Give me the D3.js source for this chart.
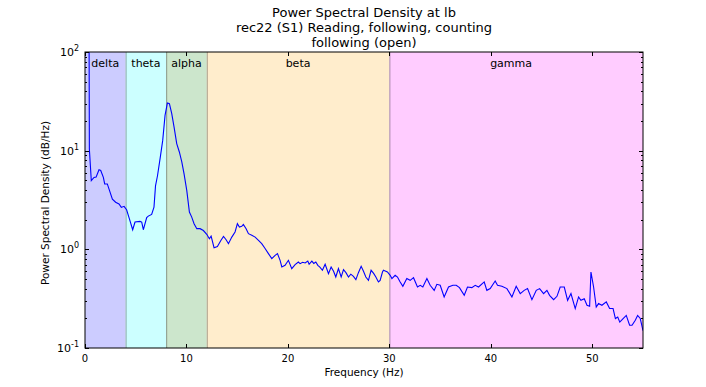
<!DOCTYPE html>
<html>
<head>
<meta charset="utf-8">
<script src="https://d3js.org/d3.v7.min.js"></script>
<style>
  body { margin: 0; background: #fff; }
  text { font-family: "DejaVu Sans", sans-serif; fill: #000; }
</style>
</head>
<body>
<div id="chart"></div>
<script>
// title lines
var titleLines = ["Power Spectral Density at lb", "rec22 (S1) Reading, following, counting", "following (open)"];

// frequency bands
var bandNames = ["delta", "theta", "alpha", "beta", "gamma"];
var bandStart = [0, 4, 8, 12, 30];
var bandEnd = [4, 8, 12, 30, 55];
var bandLabelAt = [2, 6, 10, 21, 42];
var bandColors = ["#ccccff", "#ccffff", "#cce6cc", "#ffedcc", "#ffccff"];

// spectrum
var freq = [0.39, 0.43, 0.62, 0.89, 1.1, 1.38, 1.55, 1.81, 1.94, 2.2, 2.37, 2.7, 3.02, 3.35, 3.58, 3.85,
  4.1, 4.37, 4.7, 4.93, 5.42, 5.59, 5.75, 6.08, 6.24, 6.57, 6.8, 6.95, 7.15, 7.4, 7.66, 7.89,
  8.12, 8.32, 8.55, 8.78, 9.04, 9.3, 9.54, 9.76, 10.03, 10.29, 10.52, 10.75, 11.02, 11.34, 11.67, 12.0,
  12.26, 12.43, 12.72, 13.05, 13.39, 13.65, 13.91, 14.14, 14.47, 14.79, 15.02, 15.22, 15.45, 15.61, 15.88, 16.11,
  16.44, 16.77, 17.1, 17.42, 17.75, 18.08, 18.41, 18.74, 18.97, 19.23, 19.4, 19.72, 20.05, 20.38, 20.71, 21.03,
  21.2, 21.45, 21.7, 21.96, 22.09, 22.36, 22.55, 22.75, 22.95, 23.15, 23.4, 23.67, 24.0, 24.26, 24.5, 24.72,
  24.98, 25.25, 25.48, 25.72, 25.97, 26.2, 26.46, 26.7, 26.95, 27.22, 27.45, 27.68, 27.94, 28.2, 28.45, 28.67,
  28.92, 29.09, 29.32, 29.42, 29.59, 29.81, 30.08, 30.25, 30.57, 30.8, 31.05, 31.33, 31.72, 32.05, 32.38, 32.77,
  33.04, 33.3, 33.7, 34.02, 34.42, 34.68, 35.01, 35.4, 35.83, 36.26, 36.59, 36.91, 37.38, 37.7, 38.13, 38.46,
  38.79, 39.35, 39.61, 39.94, 40.43, 40.66, 41.09, 41.59, 42.08, 42.5, 42.9, 43.29, 43.62, 44.05, 44.48, 44.81,
  45.2, 45.53, 45.79, 46.19, 46.52, 46.84, 47.24, 47.57, 47.9, 48.32, 48.65, 48.88, 49.21, 49.48, 49.74, 49.87,
  50.13, 50.39, 50.62, 50.95, 51.38, 51.71, 52.05, 52.28, 52.51, 52.71, 53.04, 53.35, 53.68, 53.92, 54.24, 54.47,
  54.73, 55.0];
var psd = [400, 10.4, 4.97, 5.36, 5.4, 6.4, 6.3, 5.36, 4.6, 4.6, 4.08, 3.23, 3.0, 2.88, 2.66, 2.73,
  2.52, 2.05, 1.58, 1.89, 1.92, 1.89, 1.58, 2.1, 2.17, 2.26, 2.68, 4.4, 5.6, 8.3, 12.7, 22.8,
  30.4, 29.9, 23.7, 17.3, 11.8, 9.7, 7.7, 5.85, 3.96, 2.39, 2.12, 1.82, 1.62, 1.62, 1.55, 1.42,
  1.28, 1.36, 1.04, 1.07, 1.23, 1.35, 1.25, 1.14, 1.33, 1.5, 1.82, 1.68, 1.71, 1.79, 1.62, 1.44,
  1.39, 1.33, 1.23, 1.14, 1.02, 0.905, 0.805, 0.87, 0.905, 0.774, 0.662, 0.688, 0.774, 0.637, 0.7, 0.744,
  0.716, 0.74, 0.727, 0.761, 0.705, 0.761, 0.72, 0.744, 0.688, 0.66, 0.613, 0.705, 0.567, 0.662, 0.6, 0.524,
  0.637, 0.524, 0.622, 0.58, 0.524, 0.56, 0.532, 0.493, 0.58, 0.673, 0.6, 0.524, 0.485, 0.613, 0.57, 0.524,
  0.467, 0.485, 0.589, 0.613, 0.603, 0.589, 0.545, 0.505, 0.545, 0.524, 0.47, 0.422, 0.505, 0.485, 0.516, 0.415,
  0.432, 0.415, 0.505, 0.432, 0.384, 0.442, 0.432, 0.329, 0.415, 0.432, 0.432, 0.409, 0.342, 0.415, 0.409, 0.432,
  0.415, 0.467, 0.384, 0.4, 0.477, 0.432, 0.422, 0.4, 0.329, 0.422, 0.356, 0.384, 0.4, 0.309, 0.384, 0.4,
  0.356, 0.384, 0.342, 0.309, 0.334, 0.415, 0.415, 0.304, 0.356, 0.251, 0.329, 0.304, 0.316, 0.271, 0.265, 0.589,
  0.415, 0.26, 0.282, 0.271, 0.293, 0.251, 0.251, 0.199, 0.206, 0.183, 0.199, 0.214, 0.17, 0.17, 0.191, 0.214,
  0.199, 0.15];

var xTicks = [0, 10, 20, 30, 40, 50];
var yTicks = [0.1, 1, 10, 100];
var yExp = ["-1", "0", "1", "2"];

// set the dimensions and margins of the graph
var margin = {top: 52, right: 63, bottom: 39, left: 85},
    width = 706 - margin.left - margin.right,
    height = 387 - margin.top - margin.bottom;

var svg = d3.select("#chart").append("svg")
  .attr("width", 706)
  .attr("height", 387);

svg.append("rect").attr("width", 706).attr("height", 387).attr("fill", "#fff");

var g = svg.append("g")
  .attr("transform", "translate(" + margin.left + "," + margin.top + ")");

var x = d3.scaleLinear().domain([0, 55]).range([0, width]);
var y = d3.scaleLog().domain([0.1, 100]).range([height, 0]);

// band spans
g.selectAll(".band")
  .data(bandNames)
  .enter().append("rect")
  .attr("x", function (d, i) { return x(bandStart[i]); })
  .attr("y", 0)
  .attr("width", function (d, i) { return x(bandEnd[i]) - x(bandStart[i]); })
  .attr("height", height)
  .attr("fill", function (d, i) { return bandColors[i]; });

// span edges
g.selectAll(".edge")
  .data(bandStart.slice(1))
  .enter().append("line")
  .attr("x1", function (d) { return x(d) + 0.5; })
  .attr("x2", function (d) { return x(d) + 0.5; })
  .attr("y1", 0)
  .attr("y2", height)
  .attr("stroke", "#000")
  .attr("stroke-opacity", 0.35)
  .attr("stroke-width", 1);

g.selectAll(".bandLabel")
  .data(bandNames)
  .enter().append("text")
  .attr("x", function (d, i) { return x(bandLabelAt[i]); })
  .attr("y", 15)
  .attr("text-anchor", "middle")
  .style("font-size", "11px")
  .text(function (d) { return d; });

// clip for the line
g.append("clipPath").attr("id", "clip")
  .append("rect").attr("width", width).attr("height", height);

var line = d3.line()
  .x(function (d, i) { return x(freq[i]); })
  .y(function (d) { return y(d); });

g.append("path")
  .datum(psd)
  .attr("clip-path", "url(#clip)")
  .attr("fill", "none")
  .attr("stroke", "#0000ff")
  .attr("stroke-width", 1.1)
  .attr("d", line);

// ticks inside, on all four sides
var minor = [];
[0.1, 1, 10].forEach(function (b) {
  for (var k = 2; k <= 9; k++) minor.push(b * k);
});

function tickLines(vals, len, horiz) {
  vals.forEach(function (v) {
    if (horiz) {
      var px = Math.round(x(v)) + 0.5;
      g.append("line").attr("x1", px).attr("x2", px).attr("y1", height).attr("y2", height - len).attr("stroke", "#000");
      g.append("line").attr("x1", px).attr("x2", px).attr("y1", 0).attr("y2", len).attr("stroke", "#000");
    } else {
      var py = Math.round(y(v)) + 0.5;
      g.append("line").attr("x1", 0).attr("x2", len).attr("y1", py).attr("y2", py).attr("stroke", "#000");
      g.append("line").attr("x1", width).attr("x2", width - len).attr("y1", py).attr("y2", py).attr("stroke", "#000");
    }
  });
}
tickLines(xTicks, 4, true);
tickLines(yTicks, 4, false);
tickLines(minor, 2, false);

// frame
g.append("rect")
  .attr("x", 0).attr("y", 0)
  .attr("width", width).attr("height", height)
  .attr("fill", "none")
  .attr("stroke", "#000")
  .attr("stroke-width", 1);

// tick labels
g.selectAll(".xlab")
  .data(xTicks)
  .enter().append("text")
  .attr("x", function (d) { return x(d); })
  .attr("y", height + 14)
  .attr("text-anchor", "middle")
  .style("font-size", "10px")
  .text(function (d) { return d; });

var yl = g.selectAll(".ylab")
  .data(yTicks)
  .enter().append("text")
  .attr("x", -6)
  .attr("y", function (d) { return y(d) + 4; })
  .attr("text-anchor", "end")
  .style("font-size", "11px");
yl.append("tspan").text("10");
yl.append("tspan")
  .attr("dy", -5)
  .style("font-size", "8px")
  .text(function (d, i) { return yExp[i]; });

// axis labels
g.append("text")
  .attr("x", width / 2)
  .attr("y", height + 28)
  .attr("text-anchor", "middle")
  .style("font-size", "10.5px")
  .text("Frequency (Hz)");

g.append("text")
  .attr("transform", "translate(-36," + (height / 2 + 3) + ") rotate(-90)")
  .attr("text-anchor", "middle")
  .style("font-size", "10.5px")
  .text("Power Spectral Density (dB/Hz)");

// title
svg.selectAll(".title")
  .data(titleLines)
  .enter().append("text")
  .attr("x", margin.left + width / 2)
  .attr("y", function (d, i) { return 17 + i * 15; })
  .attr("text-anchor", "middle")
  .style("font-size", "13px")
  .text(function (d) { return d; });
</script>
</body>
</html>
